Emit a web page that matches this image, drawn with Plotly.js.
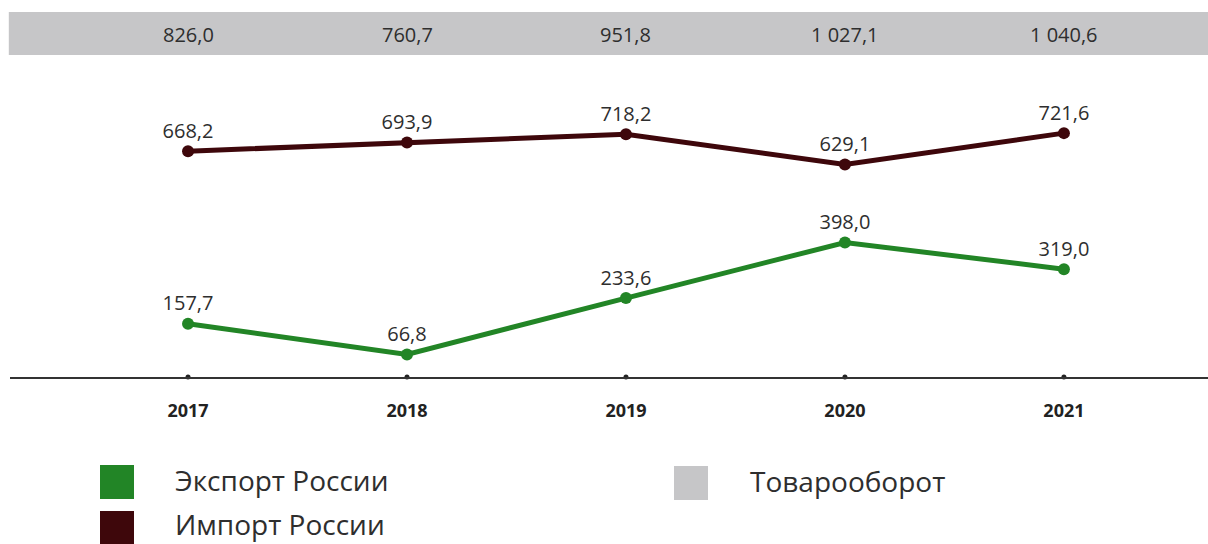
<!DOCTYPE html>
<html>
<head>
<meta charset="utf-8">
<script src="https://cdn.plot.ly/plotly-3.0.1.min.js"></script>
<style>html,body{margin:0;padding:0;background:#fff;}#chart{width:1208px;height:544px;}</style>
</head>
<body>
<div id="chart"></div>
<script>
const years = ['2017', '2018', '2019', '2020', '2021'];
const exportRu = [157.7, 66.8, 233.6, 398.0, 319.0];
const importRu = [668.2, 693.9, 718.2, 629.1, 721.6];
const turnover = [826.0, 760.7, 951.8, 1027.1, 1040.6];
const seriesNames = ['Экспорт России', 'Импорт России', 'Товарооборот'];

const GREEN = '#228526', BURG = '#3e070b', GRAY = '#c6c6c8', TXT = '#2e2e2e';
const FONT = 'Open Sans, sans-serif';

function fmt(v) {
  const s = v.toFixed(1).split('.');
  const intPart = s[0].replace(/\B(?=(\d{3})+(?!\d))/g, '\u00a0');
  return intPart + ',' + s[1];
}

const lineTrace = (y, color, name) => ({
  x: years, y: y, name: name, type: 'scatter', mode: 'lines+markers+text',
  line: {color: color, width: 5},
  marker: {color: color, size: 12},
  text: y.map(fmt), textposition: 'top center',
  textfont: {family: FONT, size: 20, color: TXT},
  cliponaxis: false, hoverinfo: 'x+y'
});

const tickDots = {
  x: years, y: years.map(() => 0), type: 'scatter', mode: 'markers',
  marker: {color: '#222', size: 5}, cliponaxis: false, hoverinfo: 'skip', showlegend: false
};

// plot area pixel helpers: top 12, bottom 377
const pyTop = 12, pyBot = 377;
const py = p => (pyBot - p) / (pyBot - pyTop);

const shapes = [
  {type: 'rect', xref: 'paper', yref: 'paper', x0: -0.001, x1: 1, y0: py(55), y1: py(12),
   fillcolor: GRAY, line: {width: 0}, layer: 'below'}
];
const annotations = turnover.map((v, i) => ({
  x: i, xref: 'x', y: py(35), yref: 'paper', text: fmt(v), showarrow: false,
  font: {family: FONT, size: 20, color: TXT}, xanchor: 'center', yanchor: 'middle'
}));

const legendItems = [
  {color: GREEN, x: 100, y: 465, tx: 174, label: seriesNames[0]},
  {color: BURG, x: 100, y: 511, tx: 174, label: seriesNames[1]},
  {color: GRAY, x: 674, y: 466, tx: 749, label: seriesNames[2]}
];
const pxX = p => (p - 10) / 1198;
legendItems.forEach((it, k) => {
  shapes.push({type: 'rect', xref: 'paper', yref: 'paper', x0: pxX(it.x), x1: pxX(it.x + 34),
    y0: py(it.y + 34), y1: py(it.y), fillcolor: it.color, line: {width: 0}});
  const last = k === 1;
  annotations.push({xref: 'paper', yref: 'paper', x: pxX(it.tx),
    y: last ? py(544) : py(it.y + 15), text: it.label,
    showarrow: false, xanchor: 'left', yanchor: last ? 'bottom' : 'middle', borderpad: 0,
    font: {family: FONT, size: 28, color: TXT}});
});

const layout = {
  width: 1208, height: 544,
  margin: {l: 10, r: 0, t: 12, b: 167},
  paper_bgcolor: '#fff', plot_bgcolor: '#fff',
  showlegend: false,
  separators: ', ',
  xaxis: {type: 'category', range: [-0.813, 4.658], showgrid: false, zeroline: false,
    showline: true, linecolor: '#333', linewidth: 1.5, ticks: '', ticklabelstandoff: 17,
    tickfont: {family: FONT, size: 18, color: '#222', weight: 'bold'}, fixedrange: true},
  yaxis: {range: [0, 1080], visible: false, fixedrange: true},
  shapes: shapes, annotations: annotations
};

Plotly.newPlot('chart', [tickDots, lineTrace(exportRu, GREEN, seriesNames[0]), lineTrace(importRu, BURG, seriesNames[1])], layout, {displayModeBar: false, staticPlot: true});
</script>
</body>
</html>
